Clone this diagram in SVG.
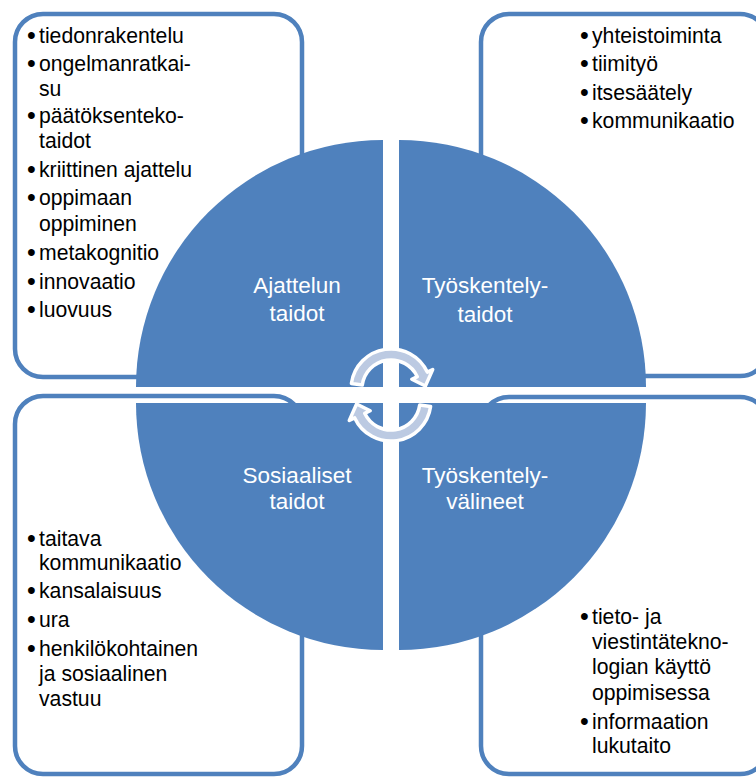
<svg xmlns="http://www.w3.org/2000/svg" width="756" height="777" viewBox="0 0 756 777">
<style>
.box{fill:#ffffff;stroke:#4F81BD;stroke-width:4.5}
.quad{fill:#4F81BD}
.item{font-family:"Liberation Sans",Arial,sans-serif;font-size:21.2px;fill:#000000}
.bul{font-size:25px}
.lbl{font-family:"Liberation Sans",Arial,sans-serif;font-size:22.5px;fill:#ffffff;text-anchor:middle}
.arr{fill:#BCCAE2;stroke:#ffffff;stroke-width:3.5;stroke-linejoin:round}
</style>
<defs>
<path id="carrow" d="M351.4,383.4 A40,40 0 0 1 427.3,372.1 L432.7,369.6 L425.4,386 L411.8,379.3 L417.3,376.7 A29,29 0 0 0 362.3,385 Z"/>
</defs>
<rect width="756" height="777" fill="#ffffff"/>
<g id="boxes">
<rect id="box-tl" class="box" x="15" y="14" width="287" height="363" rx="28" ry="28"/>
<rect id="box-tr" class="box" x="481" y="14" width="287" height="362" rx="28" ry="28"/>
<rect id="box-bl" class="box" x="15" y="396" width="287" height="378" rx="28" ry="28"/>
<rect id="box-br" class="box" x="481" y="397" width="287" height="377" rx="28" ry="28"/>
</g>
<g id="node-ajattelun">
<path class="quad" d="M383,387 L136,387 A247,247 0 0 1 383,140 Z"/>
<text class="lbl" x="297" y="293">Ajattelun</text>
<text class="lbl" x="297" y="321">taidot</text>
<g class="item">
<text class="bul" x="27" y="44">•</text><text x="39" y="43">tiedonrakentelu</text>
<text class="bul" x="27" y="72">•</text><text x="39" y="71">ongelmanratkai-</text>
<text x="39" y="96">su</text>
<text class="bul" x="27" y="124">•</text><text x="39" y="123">päätöksenteko-</text>
<text x="39" y="148">taidot</text>
<text class="bul" x="27" y="178">•</text><text x="39" y="177">kriittinen ajattelu</text>
<text class="bul" x="27" y="206">•</text><text x="39" y="205">oppimaan</text>
<text x="39" y="231">oppiminen</text>
<text class="bul" x="27" y="261">•</text><text x="39" y="260">metakognitio</text>
<text class="bul" x="27" y="290">•</text><text x="39" y="289">innovaatio</text>
<text class="bul" x="27" y="318">•</text><text x="39" y="317">luovuus</text>
</g>
</g>
<g id="node-tyoskentelytaidot">
<path class="quad" d="M399,387 L399,140 A247,247 0 0 1 646,387 Z"/>
<text class="lbl" x="485" y="293">Työskentely-</text>
<text class="lbl" x="485" y="322">taidot</text>
<g class="item">
<text class="bul" x="580" y="44">•</text><text x="592" y="43">yhteistoiminta</text>
<text class="bul" x="580" y="72">•</text><text x="592" y="71">tiimityö</text>
<text class="bul" x="580" y="101">•</text><text x="592" y="100">itsesäätely</text>
<text class="bul" x="580" y="129">•</text><text x="592" y="128">kommunikaatio</text>
</g>
</g>
<g id="node-sosiaaliset">
<path class="quad" d="M383,403 L383,650 A247,247 0 0 1 136,403 Z"/>
<text class="lbl" x="297" y="483">Sosiaaliset</text>
<text class="lbl" x="297" y="509">taidot</text>
<g class="item">
<text class="bul" x="27" y="547">•</text><text x="39" y="546">taitava</text>
<text x="39" y="570">kommunikaatio</text>
<text class="bul" x="27" y="599">•</text><text x="39" y="598">kansalaisuus</text>
<text class="bul" x="27" y="628">•</text><text x="39" y="627">ura</text>
<text class="bul" x="27" y="657">•</text><text x="39" y="656">henkilökohtainen</text>
<text x="39" y="681">ja sosiaalinen</text>
<text x="39" y="706">vastuu</text>
</g>
</g>
<g id="node-valineet">
<path class="quad" d="M399,403 L646,403 A247,247 0 0 1 399,650 Z"/>
<text class="lbl" x="485" y="483">Työskentely-</text>
<text class="lbl" x="485" y="509">välineet</text>
<g class="item">
<text class="bul" x="580" y="625">•</text><text x="592" y="624">tieto- ja</text>
<text x="592" y="649">viestintätekno-</text>
<text x="592" y="674">logian käyttö</text>
<text x="592" y="700">oppimisessa</text>
<text class="bul" x="580" y="730">•</text><text x="592" y="729">informaation</text>
<text x="592" y="753">lukutaito</text>
</g>
</g>
<g id="connectors">
<use href="#carrow" class="arr"/>
<use href="#carrow" class="arr" transform="rotate(180 391 395)"/>
</g>
</svg>
